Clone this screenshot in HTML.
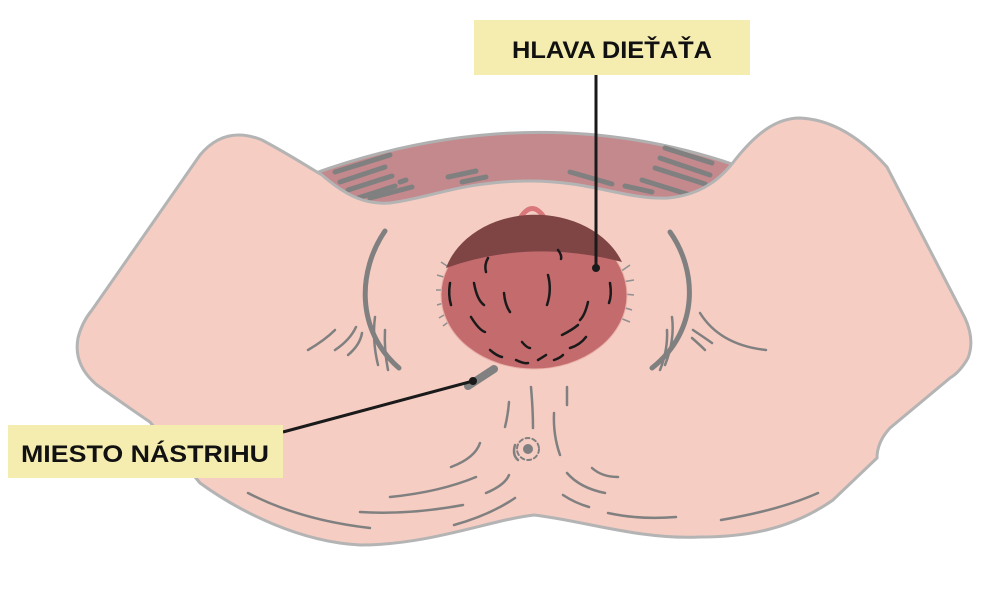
<!DOCTYPE html>
<html><head><meta charset="utf-8"><style>
html,body{margin:0;padding:0;background:#fff;}
svg{display:block;}
</style></head><body>
<svg width="1004" height="600" viewBox="0 0 1004 600" xmlns="http://www.w3.org/2000/svg">
<!-- band -->
<path d="M310,175 Q530,95 735,165 L735,210 L310,210 Z" fill="#c4898d" stroke="#b0b0b0" stroke-width="3"/>
<g stroke="#808080" stroke-width="5" stroke-linecap="round" fill="none">
<line x1="335" y1="172" x2="390" y2="155"/><line x1="340" y1="182" x2="385" y2="167"/>
<line x1="348" y1="190" x2="392" y2="176"/><line x1="358" y1="198" x2="395" y2="186"/>
<line x1="370" y1="198" x2="412" y2="187"/><line x1="400" y1="182" x2="406" y2="180"/>
<line x1="448" y1="177" x2="476" y2="171"/><line x1="462" y1="182" x2="486" y2="177"/>
<line x1="570" y1="172" x2="612" y2="184"/><line x1="625" y1="186" x2="652" y2="192"/>
<line x1="665" y1="148" x2="712" y2="163"/><line x1="660" y1="158" x2="710" y2="175"/>
<line x1="655" y1="168" x2="705" y2="184"/><line x1="642" y1="180" x2="690" y2="195"/>
</g>
<!-- skin -->
<path d="M200,155 Q225,125 262,140 C290,155 305,165 322,175 C345,195 365,205 390,203 C430,198 460,182 525,181 C590,180 625,200 668,198 C700,195 720,180 735,160 C755,135 775,118 800,118 Q845,120 887,167
 L965,318 Q975,340 968,358 Q960,372 950,378 L890,428 Q877,442 877,458 L833,500 C790,530 745,537 700,537 C640,540 580,520 534,515 C490,520 430,545 360,545 C300,542 240,512 200,483 L150,422 Q115,398 97,385 Q73,365 78,338 Q82,322 92,310 Z"
 fill="#f5cdc3" stroke="#b4b4b4" stroke-width="3"/>
<!-- side brackets and folds -->
<g stroke="#808080" fill="none" stroke-linecap="round">
<path d="M385,231 C358,270 355,330 399,368" stroke-width="5"/>
<path d="M670,232 C697,270 700,330 652,368" stroke-width="5"/>
<g stroke-width="2.5">
<path d="M308,350 Q325,340 335,330"/><path d="M335,350 Q350,340 356,327"/><path d="M348,355 Q360,345 362,333"/>
<path d="M378,365 Q372,340 375,317"/><path d="M388,370 Q384,350 385,330"/>
<path d="M665,365 Q675,340 672,317"/><path d="M660,370 Q668,350 667,330"/>
<path d="M700,313 Q720,345 766,350"/><path d="M693,330 Q705,338 712,343"/><path d="M692,338 Q700,345 705,350"/>
<path d="M531,387 Q533,410 533,428"/><path d="M567,387 L567,405"/><path d="M509,402 Q508,415 505,427"/>
<path d="M554,413 Q553,435 560,455"/><path d="M480,443 Q475,458 451,467"/><path d="M509,475 Q505,485 486,493"/>
<path d="M476,477 Q440,492 390,497"/><path d="M463,505 Q410,515 360,512"/><path d="M515,498 Q490,515 454,525"/>
<path d="M248,493 Q300,520 370,528"/>
<path d="M567,473 Q580,488 605,493"/><path d="M592,468 Q602,477 618,477"/><path d="M563,495 Q575,503 589,507"/>
<path d="M608,513 Q640,520 676,517"/><path d="M721,520 Q780,510 818,493"/>
<path d="M515,445 Q512,455 518,460"/>
</g>
<g stroke-width="2" stroke-dasharray="4 3"><circle cx="528" cy="449" r="11"/></g>
<circle cx="528" cy="449" r="5" fill="#808080" stroke="none"/>
</g>
<!-- hair around head -->
<g stroke="#909090" stroke-width="1.5">
<line x1="441" y1="262" x2="450" y2="268"/><line x1="437" y1="275" x2="447" y2="278"/><line x1="436" y1="290" x2="446" y2="290"/>
<line x1="437" y1="305" x2="447" y2="302"/><line x1="439" y1="318" x2="449" y2="312"/><line x1="443" y1="326" x2="451" y2="320"/>
<line x1="630" y1="265" x2="620" y2="272"/><line x1="634" y1="280" x2="622" y2="282"/><line x1="634" y1="295" x2="624" y2="294"/>
<line x1="632" y1="310" x2="622" y2="307"/><line x1="630" y1="322" x2="620" y2="318"/>
</g>
<!-- head -->
<path d="M518,222 Q532,195 547,222" fill="none" stroke="#d9777a" stroke-width="5"/>
<ellipse cx="534" cy="295" rx="93" ry="74" fill="#c46b6e" stroke="#e8b0a8" stroke-width="1"/>
<path d="M446,268 A93,74 0 0 1 622,262 Q530,238 446,268 Z" fill="#7f4444"/>
<g stroke="#1a1a1a" stroke-width="2.5" fill="none" stroke-linecap="round">
<path d="M488,258 Q484,265 486,272"/><path d="M558,250 Q562,255 561,259"/>
<path d="M450,283 Q448,295 451,305"/><path d="M474,283 Q477,300 484,305"/><path d="M504,293 Q505,305 510,312"/>
<path d="M548,275 Q552,290 547,305"/><path d="M610,283 Q612,295 609,303"/><path d="M588,302 Q585,315 580,320"/>
<path d="M471,317 Q479,330 485,332"/><path d="M562,335 Q572,330 578,325"/><path d="M490,350 Q497,356 502,357"/>
<path d="M522,342 Q527,348 530,348"/><path d="M516,360 Q524,364 528,363"/><path d="M538,360 Q543,357 546,355"/>
<path d="M554,360 Q560,358 563,355"/><path d="M570,348 Q580,345 586,337"/>
</g>
<!-- incision -->
<line x1="468" y1="386" x2="494" y2="369" stroke="#808080" stroke-width="8" stroke-linecap="round"/>
<!-- leaders -->
<line x1="596" y1="74" x2="596" y2="268" stroke="#1a1a1a" stroke-width="3"/>
<circle cx="596" cy="268" r="4" fill="#1a1a1a"/>
<line x1="283" y1="432" x2="473" y2="381" stroke="#1a1a1a" stroke-width="3"/>
<circle cx="473" cy="381" r="4" fill="#1a1a1a"/>
<!-- labels -->
<rect x="474" y="20" width="276" height="55" fill="#f5ecb0"/>
<text x="612" y="58" text-anchor="middle" font-family="Liberation Sans, sans-serif" font-weight="bold" font-size="24" fill="#111" textLength="200" lengthAdjust="spacingAndGlyphs">HLAVA DIEŤAŤA</text>
<rect x="8" y="425" width="275" height="53" fill="#f5ecb0"/>
<text x="145" y="462" text-anchor="middle" font-family="Liberation Sans, sans-serif" font-weight="bold" font-size="24" fill="#111" textLength="248" lengthAdjust="spacingAndGlyphs">MIESTO NÁSTRIHU</text>
</svg>
</body></html>
